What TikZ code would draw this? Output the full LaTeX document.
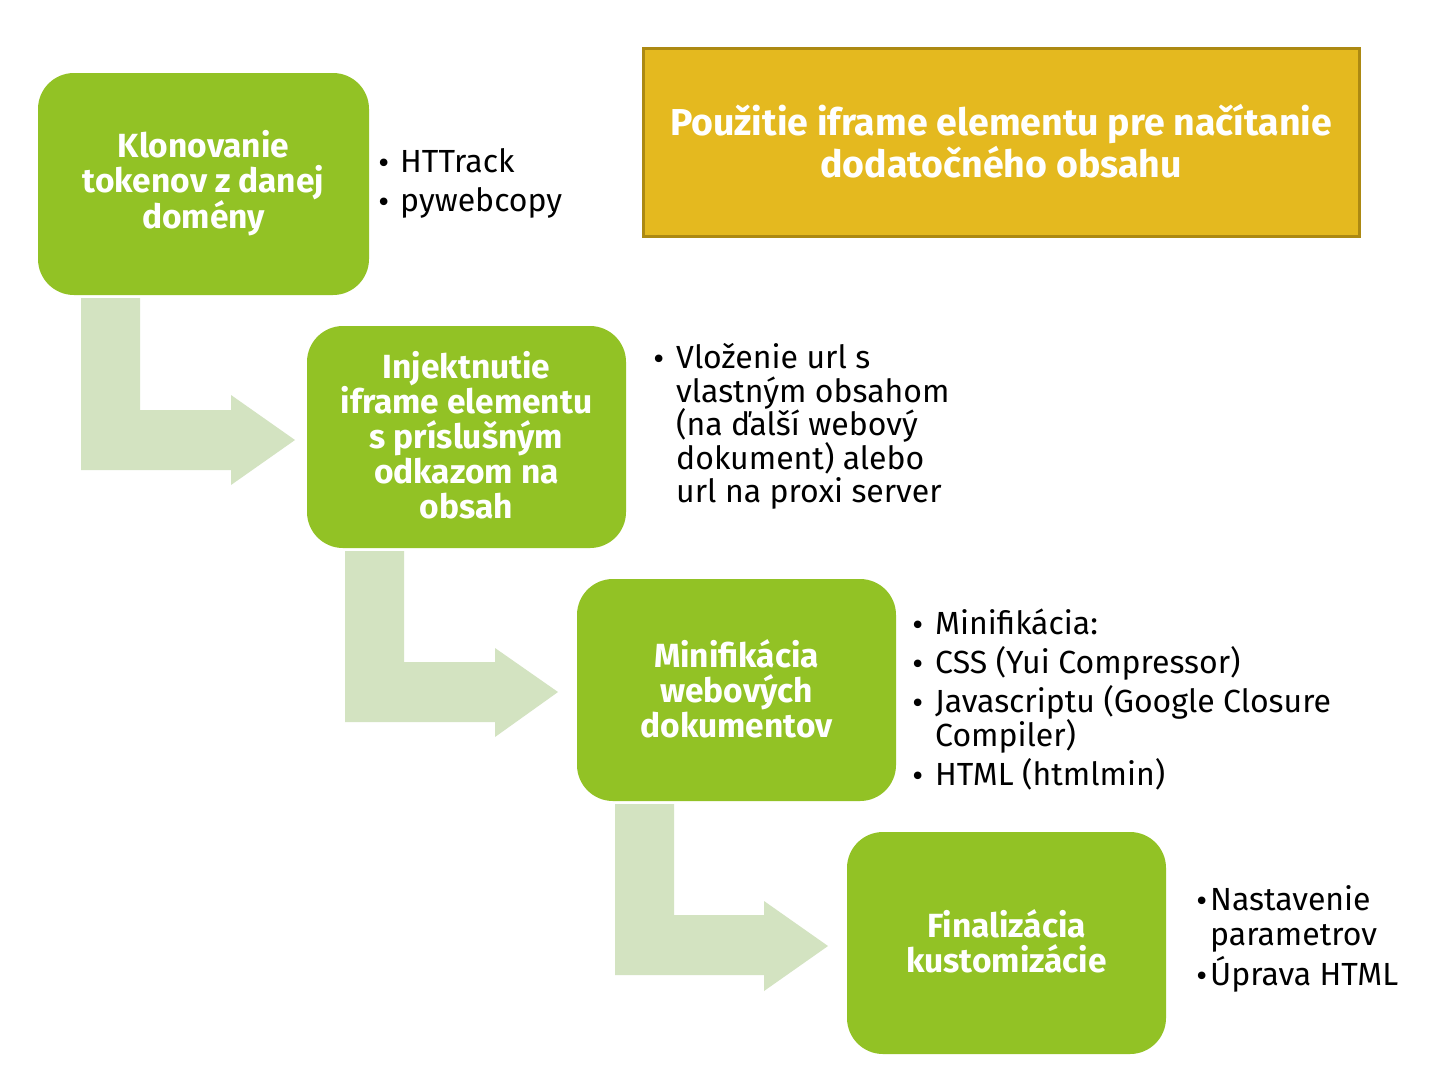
\documentclass[tikz,border=0pt]{standalone}
\usepackage{fontspec}
\setmainfont{Fira Sans}
\newfontfamily\dotfont{DejaVu Sans}
\definecolor{boxgreen}{RGB}{146,194,37}
\definecolor{arrowgreen}{RGB}{211,227,193}
\definecolor{goldfill}{RGB}{228,185,31}
\definecolor{goldline}{RGB}{172,137,18}
\tikzset{
  boxtext/.style={text=white, align=center, font=\bfseries\fontsize{33.5}{35}\selectfont, inner sep=0pt},
  flowarrow/.style={fill=arrowgreen, draw=none},
  bul/.style={anchor=base west, inner sep=0pt, font=\fontsize{32}{34}\selectfont, text=black},
  bdot/.style={anchor=base west, inner sep=0pt, font=\dotfont\fontsize{26}{34}\selectfont, text=black},
}
\begin{document}
\begin{tikzpicture}[x=1pt,y=-1pt]
\useasboundingbox (0,0) rectangle (1434,1080);
\fill[white] (0,0) rectangle (1434,1080);

% arrows
\fill[flowarrow] (81,298) -- (140,298) -- (140,410) -- (231,410) -- (231,395) -- (295,440) -- (231,485) -- (231,470) -- (81,470) -- cycle;
\fill[flowarrow] (345,551) -- (404,551) -- (404,662) -- (495,662) -- (495,648) -- (558,692) -- (495,737) -- (495,722) -- (345,722) -- cycle;
\fill[flowarrow] (615,804) -- (674,804) -- (674,915) -- (764,915) -- (764,901) -- (828,946) -- (764,991) -- (764,975) -- (615,975) -- cycle;

% green boxes
\fill[boxgreen, rounded corners=36pt] (38,73) rectangle (369,295);
\node[boxtext] (b1) at (203.5,183) {Klonovanie\\tokenov z danej\\domény};
\fill[boxgreen, rounded corners=36pt] (307,326) rectangle (626,548);
\node[boxtext] (b2) at (466.5,435) {Injektnutie\\iframe elementu\\s príslušným\\odkazom na\\obsah};
\fill[boxgreen, rounded corners=36pt] (577,579) rectangle (896,801);
\node[boxtext] (b3) at (736.5,689) {Minifikácia\\webových\\dokumentov};
\fill[boxgreen, rounded corners=36pt] (847,832) rectangle (1166,1054);
\node[boxtext] (b4) at (1006.5,941) {Finalizácia\\kustomizácie};

% gold box
\draw[fill=goldfill, draw=goldline, line width=3pt] (643,48) rectangle (1359,236);
\node[text=white, align=center, font=\bfseries\fontsize{37.5}{42}\selectfont, inner sep=0pt] (g) at (1001,141) {Použitie iframe elementu pre načítanie\\dodatočného obsahu};

% bullets list 1
\node[bdot] (d11) at (376,172) {•};
\node[bul] (t11) at (400,172) {HTTrack};
\node[bdot] (d12) at (376,211) {•};
\node[bul] (t12) at (400,211) {pywebcopy};

% list 2
\node[bdot] (d21) at (651,368) {•};
\node[bul] (t21) at (676,368) {Vloženie url s};
\node[bul] (t22) at (676,402) {vlastným obsahom};
\node[bul] (t23) at (676,435) {(na ďalší webový};
\node[bul] (t24) at (676,469) {dokument) alebo};
\node[bul] (t25) at (676,502) {url na proxi server};

% list 3
\node[bdot] (d31) at (910,634) {•};
\node[bul] (t31) at (935,634) {Minifikácia:};
\node[bdot] (d32) at (910,673) {•};
\node[bul] (t32) at (935,673) {CSS (Yui Compressor)};
\node[bdot] (d33) at (910,712) {•};
\node[bul] (t33) at (935,712) {Javascriptu (Google Closure};
\node[bul] (t34) at (935,746) {Compiler)};
\node[bdot] (d35) at (910,785) {•};
\node[bul] (t35) at (935,785) {HTML (htmlmin)};

% list 4
\node[bdot] (d41) at (1194,910) {•};
\node[bul] (t41) at (1210,910) {Nastavenie};
\node[bul] (t42) at (1210,945) {parametrov};
\node[bdot] (d43) at (1194,985) {•};
\node[bul] (t43) at (1210,985) {Úprava HTML};
\end{tikzpicture}
\end{document}
